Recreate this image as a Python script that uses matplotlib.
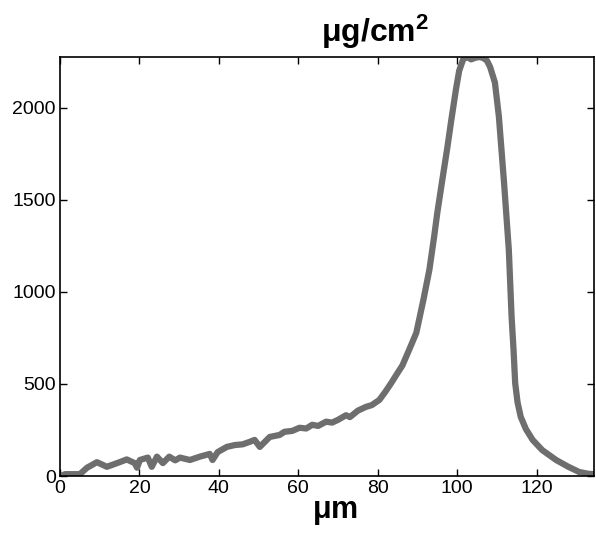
import matplotlib.pyplot as plt
import numpy as np

plt.rcParams['font.family'] = ['Liberation Sans', 'DejaVu Sans']
plt.rcParams['mathtext.fontset'] = 'custom'
plt.rcParams['mathtext.rm'] = 'Liberation Sans:bold'
plt.rcParams['mathtext.bf'] = 'Liberation Sans:bold'

# position (um) and areal density (ug/cm2)
pos = [0, 1.3, 5, 6.8, 9.3, 11.8, 15, 16.8, 18.8, 19.4, 20.1, 22.1, 23.1, 24.4,
       25.9, 27.5, 29, 30.2, 32.7, 35.2, 37.7, 38.4, 39.7, 42, 44, 46, 47.7, 49,
       50.3, 52.8, 55.3, 56.5, 58.5, 60.3, 62, 63.5, 65, 67, 68.5, 70, 72, 73,
       75, 77, 78.5, 80.4, 82, 83.4, 85, 86.2, 88, 89.7, 91.5, 93, 94.2, 95,
       96.2, 97.5, 98.5, 99.7, 100.5, 101.5, 102.5, 103.5, 104.5, 105.5, 106.5,
       107.5, 108.3, 109.5, 110.5, 111.8, 113, 113.7, 114.2, 114.6, 115.2, 116,
       117.3, 119, 121.4, 124.9, 128, 130.7, 133, 134.5]
dens = [0, 10, 10, 45, 75, 50, 75, 90, 70, 45, 87, 100, 50, 105, 70, 105, 85,
        100, 87, 105, 120, 87, 130, 158, 168, 172, 185, 196, 158, 212, 223, 240,
        245, 262, 258, 278, 272, 295, 290, 305, 330, 320, 355, 375, 385, 413,
        460, 505, 560, 600, 690, 777, 957, 1120, 1300, 1430, 1600, 1780, 1930,
        2100, 2200, 2262, 2275, 2262, 2270, 2275, 2270, 2255, 2220, 2136, 1951,
        1592, 1228, 864, 680, 505, 400, 321, 255, 196, 141, 87, 50, 22, 12, 10]

fig = plt.figure(figsize=(5.96, 5.40), dpi=100)
ax = fig.add_axes([0.1007, 0.1185, 0.8963, 0.776])
ax.plot(pos, dens, color='#6e6e6e', lw=4.5, solid_capstyle='round',
        solid_joinstyle='round')

ax.set_xlim(0, 134.5)
ax.set_ylim(0, 2275)
ax.set_xticks([0, 20, 40, 60, 80, 100, 120])
ax.set_yticks([0, 500, 1000, 1500, 2000])
ax.tick_params(direction='in', top=True, right=True, length=5, width=1,
               labelsize=14, pad=3)
for s in ax.spines.values():
    s.set_linewidth(1.2)

ax.set_xlabel(r'$\mathbf{\mu m}$', fontsize=22, labelpad=2)
ax.xaxis.set_label_coords(0.515, -0.05, transform=ax.transAxes)
ax.xaxis.label.set_va('top')
ax.text(0.59, 1.015, r'$\mathbf{\mu g/cm^2}$', transform=ax.transAxes,
        ha='center', va='bottom', fontsize=23)

fig.savefig('out.png', dpi=100)
